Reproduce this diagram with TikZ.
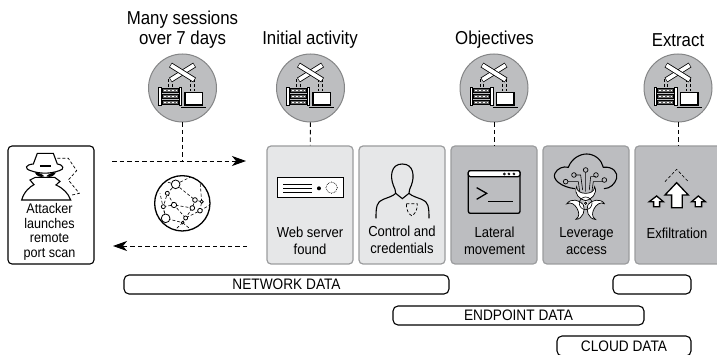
\documentclass[tikz,border=0pt]{standalone}
\usepackage{fontspec}
\setmainfont[FakeStretch=0.9]{Liberation Sans}
\usetikzlibrary{arrows.meta}

\definecolor{lightfill}{HTML}{E6E7E8}
\definecolor{darkfill}{HTML}{BCBDC0}
\definecolor{edgegray}{HTML}{9B9C9E}
\definecolor{circlegray}{HTML}{BDBEC0}

\tikzset{
  netpic/.pic={
    % dashed links
    \foreach \linkx in {-14,-10.5,8,12}
      \draw[densely dashed,line width=.7pt] (\linkx,-9) -- (\linkx,3);
    % rack
    \draw[line width=.6pt,fill=white] (-24,-1) rectangle (-21.5,17.5);
    \draw[line width=.6pt,fill=white] (-3.5,-1) rectangle (-1,17.5);
    \foreach \shelfy in {.5,6.5,12.5}
      \draw[line width=.6pt,fill=black!60] (-20.5,\shelfy) rectangle (-4.5,\shelfy+4);
    \foreach \shelfy in {2.5,8.5,14.5}
      \draw[white,line width=1pt,dash pattern=on 2pt off 2pt] (-19,\shelfy) -- (-6,\shelfy);
    % laptop
    \draw[line width=1.4pt,fill=white] (2.5,4.5) rectangle (20,17);
    \draw[line width=1.2pt] (-1.5,19.4) -- (23.5,19.4);
    % cross
    \foreach \crossa/\crossb in {-12/-8,-12/-23}{
      \draw[line width=5.4pt] (\crossa,\crossb) -- (-\crossa,-31-\crossb);
      \draw[white,line width=3.8pt,shorten <=.6pt,shorten >=.6pt] (\crossa,\crossb) -- (-\crossa,-31-\crossb);
    }
  },
  stagebox/.style={rectangle,rounded corners=4pt,draw=edgegray,line width=1.2pt,
    minimum width=86pt,minimum height=118pt},
  lightbox/.style={stagebox,fill=lightfill},
  darkbox/.style={stagebox,fill=darkfill},
  stagetext/.style={align=center,font=\fontsize{14.5}{17}\selectfont},
  titletext/.style={align=center,font=\fontsize{18.7}{20}\selectfont},
  datatext/.style={font=\fontsize{15.2}{17}\selectfont},
  databar/.style={rectangle,rounded corners=5pt,draw,line width=1.1pt,fill=white},
  hubnode/.style={circle,draw=edgegray!85!black,fill=circlegray,line width=1pt,minimum size=68pt,inner sep=0pt},
  dotlink/.style={dashed,dash pattern=on 4.5pt off 3pt,line width=.9pt},
  meshlink/.style={densely dashed,line width=.6pt},
  meshdot/.style={draw,fill=white,line width=.8pt}
}

\begin{document}
\begin{tikzpicture}[x=1pt,y=-1pt,>={Stealth[length=14pt,width=10pt,inset=4pt]},node distance=92pt]
  \path[use as bounding box,clip] (0,0) rectangle (717,355);

  % boxes
  \node[stagebox,draw=black,line width=1.1pt,fill=white] (attacker) at (51,205) {};
  \node[lightbox] (web) at (310,205) {};
  \node[lightbox] (control) [right of=web] {};
  \node[darkbox] (lateral) [right of=control] {};
  \node[darkbox] (leverage) [right of=lateral] {};
  \node[darkbox] (exfil) [right of=leverage] {};

  % hubs
  \node[hubnode] (hubinit) at (310.5,88) {};
  \node[hubnode] (hubmany) at (182.5,88) {};
  \node[hubnode] (hubobj) at (494,88) {};
  \node[hubnode] (hubext) at (678,88) {};
  \foreach \hub in {hubmany,hubinit,hubobj,hubext}
    \path (\hub) pic {netpic};

  % titles
  \node[titletext] (titlemany) at (182.5,30) {Many sessions\\over 7 days};
  \node[titletext] (titleinit) at (310,40) {Initial activity};
  \node[titletext] (titleobj) at (494.5,40) {Objectives};
  \node[titletext] (titleext) at (678,40) {Extract};

  % box labels
  \node[stagetext,font=\fontsize{14}{14.7}\selectfont] (attackertext) at (49.5,232) {Attacker\\launches\\remote\\port scan};
  \node[stagetext] (webtext) at (310,241) {Web server\\found};
  \node[stagetext] (controltext) at (402,239.5) {Control and\\credentials};
  \node[stagetext] (lateraltext) at (494.5,241) {Lateral\\movement};
  \node[stagetext] (leveragetext) at (586.5,241) {Leverage\\access};
  \node[stagetext] (exfiltext) at (677,233) {Exfiltration};

  % data bars
  \node[databar,minimum width=325pt,minimum height=19pt,datatext] (network) at (286.5,284.5) {NETWORK DATA};
  \node[databar,minimum width=78pt,minimum height=19pt] (networkend) at (652,284.5) {};
  \node[databar,minimum width=251pt,minimum height=19pt,datatext] (endpoint) at (518.5,315.5) {ENDPOINT DATA};
  \node[databar,minimum width=134pt,minimum height=20pt,datatext] (cloud) at (624,346) {CLOUD DATA};

  % connectors
  \coordinate (scanstart) at (112,161);
  \coordinate (scanjoin) at (182.5,161);
  \coordinate (scanend) at (246,161);
  \coordinate (replystart) at (247,246);
  \coordinate (replyend) at (113,246);
  \path[dotlink]
    (hubmany) edge (scanjoin)
    (hubinit) edge (web)
    (hubobj) edge (lateral)
    (hubext) edge (exfil)
    (scanstart) edge [->] (scanend)
    (replystart) edge [->] (replyend);

  % attacker and web server icons
  \begin{scope}[shift={(0,140)},x=.3333pt,y=-.3333pt,line width=1.1pt]
    \draw[densely dashed,line width=.7pt] (172,55) -- (205,55) -- (230,92) -- (205,120) -- (238,160) -- (212,166);
    \draw[fill=white] (65,180) .. controls (72,155) and (90,140) .. (102,134) -- (90,120) -- (106,112) -- (164,112) -- (180,124) -- (168,135)
      .. controls (190,145) and (205,160) .. (212,180) -- cycle;
    \fill (104,97) .. controls (118,98) and (128,103) .. (133,109) .. controls (120,114) and (110,108) .. cycle;
    \fill (168,97) .. controls (154,98) and (144,103) .. (139,109) .. controls (152,114) and (162,108) .. cycle;
    \draw[fill=white] (112,40) -- (160,40) -- (172,72) .. controls (192,75) and (194,88) .. (178,92) .. controls (150,102) and (120,102) .. (92,92)
      .. controls (72,86) and (76,74) .. (100,72) -- cycle;
    \draw[line width=1.3pt] (120,78) -- (152,78);

    \draw[line width=1.4pt,fill=white] (832,113) rectangle (1030,173);
    \foreach \webliney in {133,145,157}
      \draw[line width=.8pt] (850,\webliney) -- (935,\webliney);
    \fill (957,145) circle (6);
    \draw[densely dotted,line width=.7pt] (995,143) circle (17);

    % globe
    \draw[line width=1.3pt,fill=white] (547,190) circle (83);
    \begin{scope}
      \clip (547,190) circle (83);
      \draw[meshlink] (527,133) -- (502,160) -- (490,200) -- (497,235) -- (548,248) -- (557,234) -- (577,204) -- (585,180) -- (605,185) -- (600,212) -- (557,234);
      \draw[meshlink] (527,133) -- (585,180) (502,160) -- (522,195) -- (577,204) (490,200) -- (522,195) -- (557,234);
      \draw[meshlink] (527,133) -- (570,112) (605,185) -- (600,120) (497,235) -- (480,160) (548,248) -- (520,275) (548,248) -- (580,275) (600,212) -- (630,195) (527,133) -- (497,125);
      \foreach \meshx/\meshy/\meshr in {527/133/13,502/160/6,490/200/6,522/195/8,497/235/13,557/234/6,548/248/4,577/204/7,585/180/7,605/185/5,600/212/7}
        \draw[meshdot] (\meshx,\meshy) circle (\meshr);
    \end{scope}
  \end{scope}

  % stage icons
  \begin{scope}[shift={(360,140)},x=.3333pt,y=-.3333pt,line width=1.1pt]
    % person
    \draw (48,235) .. controls (48,200) and (50,185) .. (70,178) .. controls (85,172) and (100,168) .. (107,160)
      .. controls (107,150) and (104,146) .. (100,136) .. controls (90,110) and (92,72) .. (127,72)
      .. controls (162,72) and (164,110) .. (154,136) .. controls (150,146) and (147,150) .. (147,160)
      .. controls (155,168) and (170,172) .. (185,178) .. controls (205,185) and (207,200) .. (207,235);
    \draw (107,160) -- (127,176) -- (147,160);
    \draw[densely dashed,line width=.7pt] (139,191) -- (172,191) .. controls (172,210) and (166,222) .. (155,227) .. controls (145,222) and (139,210) .. cycle;
    % terminal
    \draw[line width=1.3pt,rounded corners=2pt] (325,92) rectangle (480,220);
    \draw[fill=white,line width=1.3pt,rounded corners=2pt] (325,92) rectangle (480,110);
    \foreach \dotx in {433,447,462}
      \draw[line width=.7pt] (\dotx,102) circle (3);
    \draw[line width=1.3pt] (350,143) -- (380,160) -- (350,178);
    \draw[line width=1.6pt] (385,185) -- (458,185);
    % cloud
    \draw (645,146) .. controls (605,142) and (575,118) .. (585,100) .. controls (592,85) and (610,78) .. (625,82)
      .. controls (635,55) and (660,42) .. (680,42) .. controls (705,42) and (725,60) .. (730,82)
      .. controls (760,78) and (775,100) .. (770,115) .. controls (765,132) and (750,146) .. (732,146);
    \draw[line width=.6pt] (624,125) -- (655,125) -- (660,160) (645,105) -- (662,105) -- (668,150) (677,97) -- (677,155) (708,110) -- (692,110) -- (688,150) (727,125) -- (700,125) -- (695,160);
    \foreach \cloudx/\cloudy in {617/125,642/105,677/90,708/105,733/120}
      \draw[line width=.7pt] (\cloudx,\cloudy) circle (7);
    % biohazard
    \foreach \hazardangle in {0,120,240}
      \draw[fill=white,line width=.7pt,rotate around={\hazardangle:(677,190)}]
        (650,140) .. controls (640,160) and (660,180) .. (677,182) .. controls (694,180) and (714,160) .. (704,140)
        .. controls (704,155) and (690,160) .. (677,160) .. controls (664,160) and (650,155) .. cycle;
    \draw[line width=.6pt] (677,190) circle (19);
    \fill[white] (677,190) circle (7);
    \draw[line width=.8pt] (677,190) circle (3.5);
    % arrows
    \draw[line width=1.3pt,fill=white] (950,128) -- (985,165) -- (967,165) -- (967,203) -- (935,203) -- (935,165) -- (915,165) -- cycle;
    \draw[line width=1.3pt,fill=white] (890,168) -- (910,185) -- (899,185) -- (899,200) -- (881,200) -- (881,185) -- (868,185) -- cycle;
    \draw[line width=1.3pt,fill=white] (1015,168) -- (1036,185) -- (1025,185) -- (1025,200) -- (1006,200) -- (1006,185) -- (995,185) -- cycle;
    \draw[densely dashed,line width=.6pt] (915,125) -- (950,88) -- (985,125);
  \end{scope}
\end{tikzpicture}
\end{document}
